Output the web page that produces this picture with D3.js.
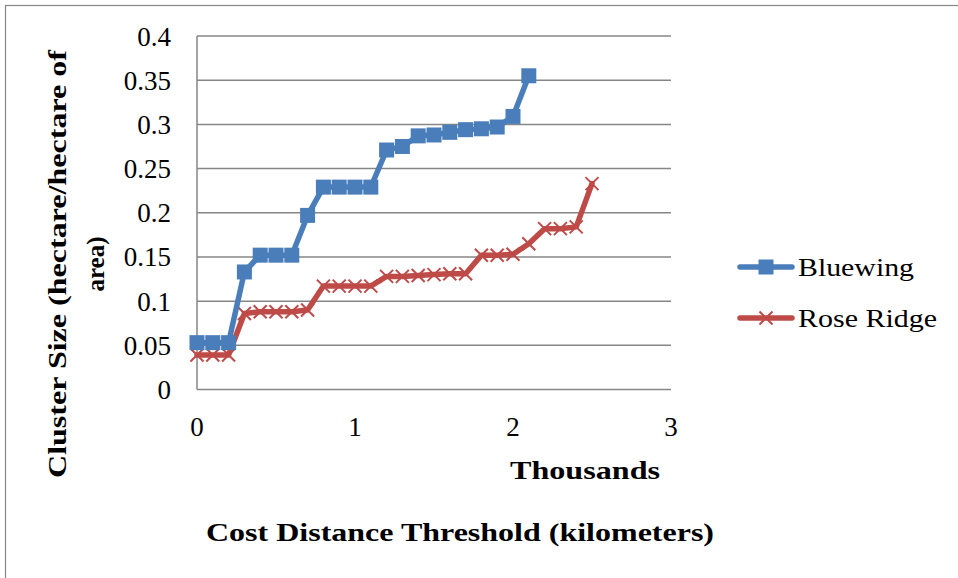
<!DOCTYPE html>
<html>
<head>
<meta charset="utf-8">
<script src="https://cdn.jsdelivr.net/npm/d3@7"></script>
<style>
  html, body { margin: 0; padding: 0; background: #fff; }
  svg { display: block; }
  text { font-family: "Liberation Serif", "DejaVu Serif", serif; fill: #000; }
</style>
</head>
<body>
<svg id="chart" width="958" height="578"></svg>
<script>
// Cost distance thresholds (thousands of km) and cluster sizes per site
const bluewingX = [0, 0.1, 0.2, 0.3, 0.4, 0.5, 0.6, 0.7, 0.8, 0.9, 1.0, 1.1, 1.2, 1.3, 1.4, 1.5, 1.6, 1.7, 1.8, 1.9, 2.0, 2.1];
const bluewingY = [0.053, 0.053, 0.053, 0.133, 0.152, 0.152, 0.152, 0.197, 0.229, 0.229, 0.229, 0.229, 0.271, 0.275, 0.287, 0.288, 0.291, 0.294, 0.295, 0.297, 0.309, 0.355];
const roseRidgeX = [0, 0.1, 0.2, 0.3, 0.4, 0.5, 0.6, 0.7, 0.8, 0.9, 1.0, 1.1, 1.2, 1.3, 1.4, 1.5, 1.6, 1.7, 1.8, 1.9, 2.0, 2.1, 2.2, 2.3, 2.4, 2.5];
const roseRidgeY = [0.039, 0.039, 0.039, 0.086, 0.088, 0.088, 0.088, 0.090, 0.117, 0.117, 0.117, 0.117, 0.128, 0.128, 0.129, 0.130, 0.131, 0.131, 0.152, 0.152, 0.153, 0.165, 0.182, 0.182, 0.184, 0.233];
const xTicks = [0, 1, 2, 3];
const yTicks = [0, 0.05, 0.1, 0.15, 0.2, 0.25, 0.3, 0.35, 0.4];
const seriesNames = ["Bluewing", "Rose Ridge"];

const svg = d3.select("#chart");
const gridColor = "#868686";
const blue = "#4A7EBB";
const red = "#BE4B48";

// Outer chart frame
svg.append("rect")
  .attr("x", 5.5).attr("y", 5.5)
  .attr("width", 1000).attr("height", 1000)
  .attr("fill", "none").attr("stroke", gridColor).attr("stroke-width", 1.2);

const x = d3.scaleLinear().domain([0, 3]).range([197, 671]);
const y = d3.scaleLinear().domain([0, 0.4]).range([389.5, 36]);

// Horizontal gridlines
svg.append("g").selectAll("line").data(yTicks.filter(d => d > 0)).join("line")
  .attr("x1", x(0)).attr("x2", x(3))
  .attr("y1", d => y(d)).attr("y2", d => y(d))
  .attr("stroke", gridColor).attr("stroke-width", 1.5);

// Axis lines
svg.append("line").attr("x1", x(0)).attr("x2", x(0)).attr("y1", y(0)).attr("y2", y(0.4))
  .attr("stroke", gridColor).attr("stroke-width", 1.5);
svg.append("line").attr("x1", x(0)).attr("x2", x(3)).attr("y1", y(0)).attr("y2", y(0))
  .attr("stroke", gridColor).attr("stroke-width", 1.5);

// Tick labels
svg.append("g").selectAll("text").data(yTicks).join("text")
  .attr("x", 171).attr("y", d => y(d) + 9.5)
  .attr("text-anchor", "end").attr("font-size", 27)
  .text(d => d3.format("")(d));
svg.append("g").selectAll("text").data(xTicks).join("text")
  .attr("x", d => x(d)).attr("y", 436)
  .attr("text-anchor", "middle").attr("font-size", 27)
  .text(d => d);

// Axis titles
svg.append("text").attr("x", 510).attr("y", 479)
  .attr("font-size", 25).attr("font-weight", "bold")
  .attr("textLength", 150).attr("lengthAdjust", "spacingAndGlyphs")
  .text("Thousands");
svg.append("text").attr("x", 206).attr("y", 541)
  .attr("font-size", 25).attr("font-weight", "bold")
  .attr("textLength", 508).attr("lengthAdjust", "spacingAndGlyphs")
  .text("Cost Distance Threshold (kilometers)");
const yTitle = svg.append("g").attr("transform", "translate(0,264) rotate(-90)");
yTitle.append("text").attr("x", 0).attr("y", 66)
  .attr("text-anchor", "middle").attr("font-size", 25).attr("font-weight", "bold")
  .attr("textLength", 428).attr("lengthAdjust", "spacingAndGlyphs")
  .text("Cluster Size (hectare/hectare of");
yTitle.append("text").attr("x", 0).attr("y", 104)
  .attr("text-anchor", "middle").attr("font-size", 25).attr("font-weight", "bold")
  .text("area)");

const line = d3.line().x(d => x(d[0])).y(d => y(d[1]));
const blueData = d3.zip(bluewingX, bluewingY);
const redData = d3.zip(roseRidgeX, roseRidgeY);

function drawCross(g, cx, cy, s) {
  g.append("path")
    .attr("d", `M${cx - s},${cy - s}L${cx + s},${cy + s}M${cx - s},${cy + s}L${cx + s},${cy - s}`)
    .attr("stroke", red).attr("stroke-width", 2).attr("fill", "none");
}

// Rose Ridge series
svg.append("path").datum(redData)
  .attr("d", line).attr("fill", "none").attr("stroke", red)
  .attr("stroke-width", 5.5).attr("stroke-linejoin", "round").attr("stroke-linecap", "round");
const redMarks = svg.append("g");
redData.forEach(d => drawCross(redMarks, x(d[0]), y(d[1]), 6.5));

// Bluewing series
svg.append("path").datum(blueData)
  .attr("d", line).attr("fill", "none").attr("stroke", blue)
  .attr("stroke-width", 5.5).attr("stroke-linejoin", "round").attr("stroke-linecap", "round");
svg.append("g").selectAll("rect").data(blueData).join("rect")
  .attr("x", d => x(d[0]) - 7.5).attr("y", d => y(d[1]) - 7.5)
  .attr("width", 15).attr("height", 15).attr("fill", blue);

// Legend
const legend = svg.append("g");
const legendRows = [
  { name: seriesNames[0], color: blue, ly: 267 },
  { name: seriesNames[1], color: red, ly: 318 }
];
legendRows.forEach((r, i) => {
  legend.append("line").attr("x1", 740).attr("x2", 792).attr("y1", r.ly).attr("y2", r.ly)
    .attr("stroke", r.color).attr("stroke-width", 5.5).attr("stroke-linecap", "round");
  if (i === 0) {
    legend.append("rect").attr("x", 766 - 7.5).attr("y", r.ly - 7.5)
      .attr("width", 15).attr("height", 15).attr("fill", blue);
  } else {
    drawCross(legend, 766, r.ly, 6.5);
  }
  legend.append("text").attr("x", 798).attr("y", r.ly + 9)
    .attr("font-size", 26)
    .attr("textLength", i === 0 ? 116 : 139).attr("lengthAdjust", "spacingAndGlyphs")
    .text(r.name);
});
</script>
</body>
</html>
